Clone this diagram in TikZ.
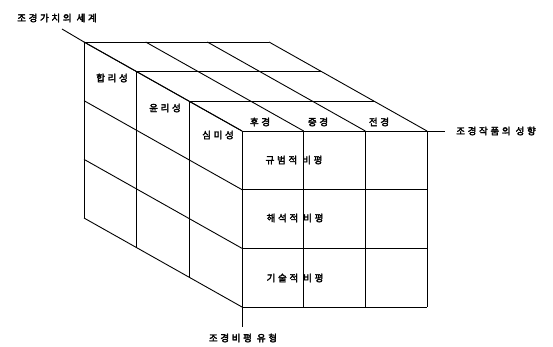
\documentclass[tikz,border=0pt]{standalone}
\usepackage{fontspec}
\newfontfamily\kr{Noto Sans CJK KR}[FakeBold=3,LetterSpace=28]
\newcommand{\wsp}{\hspace{5pt}}
\begin{document}
\begin{tikzpicture}[x=1pt,y=-1pt,
  grid/.style={line width=0.9pt,black},
  lbl/.style={font=\kr\fontsize{9.5}{11}\selectfont,inner sep=0pt,anchor=center}]
\useasboundingbox (0,0) rectangle (553,347);
% top face
\foreach \i in {0,1,2,3}{
  \draw[grid] ({84+\i*61.667},42) -- ++(158,89);
  \draw[grid] ({84+\i*52.667},{42+\i*29.667}) -- ++(185,0);
}
% left face
\foreach \i in {0,1,2,3}{
  \draw[grid] ({84+\i*52.667},{42+\i*29.667}) -- ++(0,176);
  \draw[grid] (84,{42+\i*58.667}) -- ++(158,89);
}
% front face
\foreach \i in {0,1,2,3}{
  \draw[grid] ({242+\i*61.667},131) -- ++(0,176);
  \draw[grid] (242,{131+\i*58.667}) -- ++(185,0);
}
% corners and leader ends
\coordinate (backTL) at (84,42);
\coordinate (frontTR) at (427,131);
\coordinate (frontBL) at (242,307);
\coordinate (wl) at (62,29);
\coordinate (cl) at (445,131);
\coordinate (tl) at (242,327);
% labels
\node[lbl] (world) at (57,18) {조경가치의\wsp 세계};
\node[lbl] (works) at (496,131) {조경작품의\wsp 성향};
\node[lbl] (types) at (243,338) {조경비평\wsp 유형};
\draw[grid] (wl) -- (backTL);
\draw[grid] (frontTR) -- (cl);
\draw[grid] (frontBL) -- (tl);
\node[lbl] (r1) at (112,78) {합리성};
\node[lbl] (r2) at (165,108) {윤리성};
\node[lbl] (r3) at (218,135) {심미성};
\node[lbl] (s1) at (260,122) {후경};
\node[lbl] (s2) at (318,122) {중경};
\node[lbl] (s3) at (379,122) {전경};
\node[lbl] (c1) at (294,160) {규범적\wsp 비평};
\node[lbl] (c2) at (295,218) {해석적\wsp 비평};
\node[lbl] (c3) at (295,278) {기술적\wsp 비평};
\end{tikzpicture}
\end{document}
